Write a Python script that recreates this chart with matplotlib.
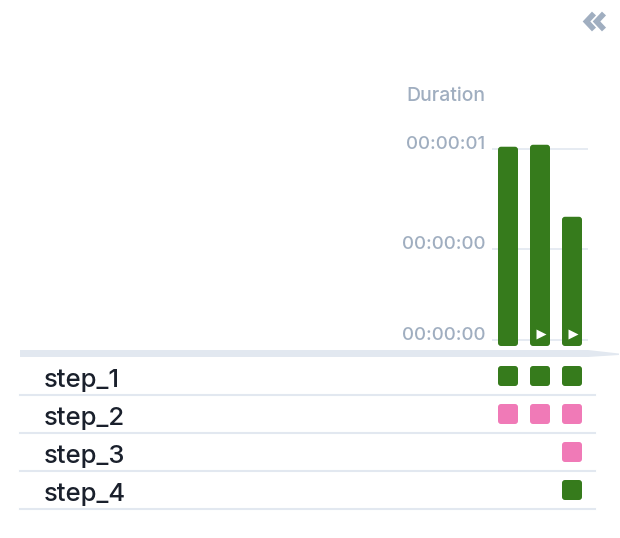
import matplotlib
matplotlib.use("Agg")
import matplotlib.pyplot as plt
import matplotlib.transforms as mtrans
from matplotlib.patches import FancyBboxPatch, Polygon
from matplotlib.lines import Line2D
from matplotlib.ticker import FuncFormatter

plt.rcParams.update({"font.family": ["Inter", "DejaVu Sans"]})

# data
runs = ["run_1", "run_2", "run_3"]
durations = [1.01, 1.02, 0.655]          # seconds
run_types = ["scheduled", "manual", "manual"]
tick_values = [1.0, 0.49, 0.03]
tasks = ["step_1", "step_2", "step_3", "step_4"]
states = [
    ["success", "success", "success"],
    ["skipped", "skipped", "skipped"],
    [None, None, "skipped"],
    [None, None, "success"],
]
state_colors = {"success": "#367B1C", "skipped": "#F07AB7"}

W, H = 620, 538
GRAY = "#A0AEC0"
LINE = "#E2E8F0"

def fx(px): return px / W
def fy(py): return 1 - py / H

fig = plt.figure(figsize=(W / 100, H / 100), dpi=100)

# ---- duration bars
col_w = 32.0                 # px per run column
bar_px = 20.0
x0, x1 = 492, 588
y_bot, y_top = 346, 140
px_per_sec = 197.3
axB = fig.add_axes([fx(x0), fy(y_bot), (x1 - x0) / W, (y_bot - y_top) / H])
axB.set_xlim((x0 - 508) / col_w, (x1 - 508) / col_w)
axB.set_ylim(0, (y_bot - y_top) / px_per_sec)
asp = col_w / px_per_sec
for i, (d, rt) in enumerate(zip(durations, run_types)):
    w = bar_px / col_w
    axB.add_patch(FancyBboxPatch((i - w / 2, 0), w, d,
                                 boxstyle="round,pad=0,rounding_size=%f" % (3 / col_w),
                                 mutation_aspect=asp, fc=state_colors["success"], ec="none", zorder=3))
    if rt == "manual":
        axB.plot(i + 1 / col_w, 12.5 / px_per_sec, marker=">", color="white", ms=7, mec="none", zorder=4)
for v in tick_values:
    axB.axhline(v, color=LINE, lw=1.2, zorder=1)
axB.set_yticks(tick_values)
axB.yaxis.set_major_formatter(FuncFormatter(lambda v, p: "00:00:%02d" % int(v)))
axB.tick_params(axis="y", length=0, pad=5, labelsize=13.5, labelcolor=GRAY)
for lb in axB.get_yticklabels():
    lb.set_va("baseline")
    lb.set_fontweight("medium")
axB.set_xticks([])
for s in axB.spines.values():
    s.set_visible(False)
fig.text(fx(485), fy(101), "Duration", ha="right", va="baseline", fontsize=14,
         color=GRAY, fontweight="medium")

# ---- header band
fig.patches.append(Polygon([(fx(20), fy(350)), (fx(588), fy(350)), (fx(619), fy(353.5)),
                            (fx(619), fy(355)), (fx(588), fy(357)), (fx(20), fy(357))],
                           closed=True, transform=fig.transFigure, fc=LINE, ec="none"))

# ---- task grid
row_px = 38.0
g_top, g_bot = 357, 520
axG = fig.add_axes([0, fy(g_bot), 1, (g_bot - g_top) / H])
axG.set_xlim((0 - 508) / col_w, (W - 508) / col_w)
axG.set_ylim((g_bot - 376) / row_px, -0.5)
aspG = col_w / row_px
lab_tr = mtrans.blended_transform_factory(axG.transAxes, axG.transData)
for r, task in enumerate(tasks):
    axG.text(fx(44), r + 10.5 / row_px, task, transform=lab_tr,
             ha="left", va="baseline", fontsize=18.5, color="#1A202C", fontweight="medium")
    axG.axhline(r + 0.5, xmin=fx(20), xmax=fx(595), color=LINE, lw=1.5)
    for c, st in enumerate(states[r]):
        if st is None:
            continue
        w, h = bar_px / col_w, bar_px / row_px
        axG.add_patch(FancyBboxPatch((c - w / 2, r - h / 2), w, h,
                                     boxstyle="round,pad=0,rounding_size=%f" % (3 / col_w),
                                     mutation_aspect=aspG, fc=state_colors[st], ec="none"))
axG.axis("off")

# ---- collapse icon
for dx in (0, 10):
    fig.lines.append(Line2D([fx(594 + dx), fx(586.5 + dx), fx(594 + dx)], [fy(13.5), fy(21.5), fy(29.5)],
                            transform=fig.transFigure, color=GRAY, lw=4.0,
                            solid_joinstyle="miter", solid_capstyle="butt"))

fig.savefig("out.png", dpi=100)
